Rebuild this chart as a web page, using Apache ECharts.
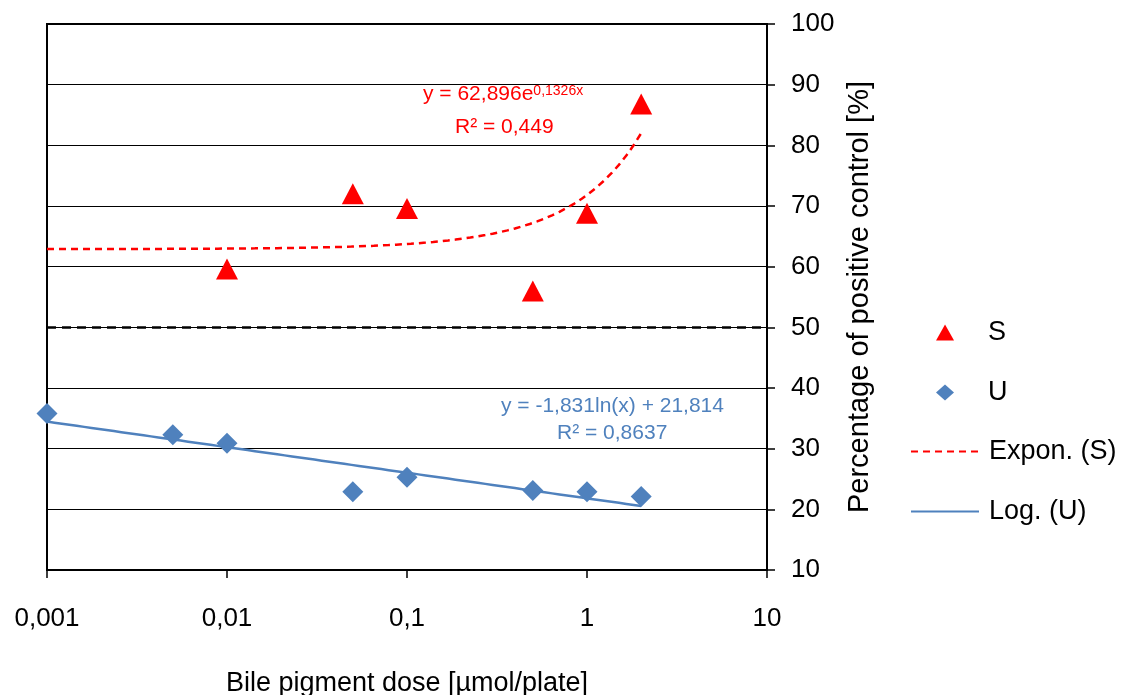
<!DOCTYPE html>
<html>
<head>
<meta charset="utf-8">
<script src="https://cdn.jsdelivr.net/npm/echarts@6/dist/echarts.min.js"></script>
<style>html,body{margin:0;padding:0;background:#fff;}#c{width:1125px;height:695px;}</style>
</head>
<body>
<div id="c"></div>
<script>
// ---- data ----
const doseS = [0.01, 0.05, 0.1, 0.5, 1, 2];
const valS  = [59.6, 72.0, 69.6, 56.0, 68.8, 86.8];
const doseU = [0.001, 0.005, 0.01, 0.05, 0.1, 0.5, 1, 2];
const valU  = [35.8, 32.3, 30.9, 22.9, 25.3, 23.1, 22.9, 22.1];
// trendline coefficients as printed on the chart
const expA = 62.896, expB = 0.1326;          // y = a e^(b x)
const logA = -1.831, logB = 21.814;          // y = a ln(x) + b
const trendFrom = 0.001, trendTo = 2;
const yMin = 10, yMax = 100, yStep = 10;
const threshold = 50;

function trend(fn) {
  const out = [];
  const n = 80;
  const l0 = Math.log10(trendFrom), l1 = Math.log10(trendTo);
  for (let i = 0; i <= n; i++) {
    const x = Math.pow(10, l0 + (l1 - l0) * i / n);
    out.push([x, fn(x)]);
  }
  return out;
}
const expLine = trend(x => expA * Math.exp(expB * x));
const logLine = trend(x => logA * Math.log(x) + logB);

const FONT = 'Liberation Sans, Arial, sans-serif';
const RED = '#FF0000', BLUE = '#4F81BD';
const chart = echarts.init(document.getElementById('c'));
chart.setOption({
  animation: false,
  backgroundColor: '#fff',
  textStyle: { fontFamily: FONT },
  grid: { left: 47, right: 358, top: 24, bottom: 125, show: true, borderColor: '#000', borderWidth: 2,
          containLabel: false, outerBoundsMode: 'none' },
  xAxis: {
    type: 'log', logBase: 10, min: 0.001, max: 10,
    name: 'Bile pigment dose [µmol/plate]', nameLocation: 'middle', nameGap: 100,
    nameTextStyle: { color: '#000', fontSize: 27, fontFamily: FONT },
    axisLine: { lineStyle: { color: '#000', width: 2 } },
    axisTick: { show: true, length: 8, lineStyle: { color: '#000', width: 1.5 } },
    minorTick: { show: false },
    splitLine: { show: false },
    axisLabel: { color: '#000', fontSize: 26, margin: 36, fontFamily: FONT,
      formatter: v => String(+v.toPrecision(6)).replace('.', ',') }
  },
  yAxis: {
    type: 'value', position: 'right', min: yMin, max: yMax, interval: yStep,
    name: 'Percentage of positive control [%]', nameLocation: 'middle', nameGap: 77, nameRotate: 90,
    nameTextStyle: { color: '#000', fontSize: 29, fontFamily: FONT },
    axisLine: { show: true, lineStyle: { color: '#000', width: 2 } },
    axisTick: { show: true, length: 8, lineStyle: { color: '#000', width: 1.5 } },
    splitLine: { show: true, lineStyle: { color: '#000', width: 1 } },
    axisLabel: { color: '#000', fontSize: 26, margin: 24, fontFamily: FONT }
  },
  legend: [
    {
      orient: 'vertical', left: 931, top: 314, itemWidth: 18, itemHeight: 16, itemGap: 33,
      textStyle: { color: '#000', fontSize: 27, fontFamily: FONT, lineHeight: 27, padding: [0, 0, 0, 29] },
      data: [ { name: 'S', icon: 'triangle' }, { name: 'U', icon: 'diamond' } ]
    },
    {
      orient: 'vertical', left: 905, top: 433, itemWidth: 68, itemHeight: 16, itemGap: 33,
      textStyle: { color: '#000', fontSize: 27, fontFamily: FONT, lineHeight: 27, padding: [0, 0, 0, 5] },
      data: [
        { name: 'Expon. (S)', itemStyle: { opacity: 0 } },
        { name: 'Log. (U)', itemStyle: { opacity: 0 } }
      ]
    }
  ],
  series: [
    {
      name: 'Expon. (S)', type: 'line', data: expLine, symbol: 'none',
      lineStyle: { color: RED, width: 2.5, type: [7, 5] }, itemStyle: { color: RED },
      z: 2
    },
    {
      name: 'Log. (U)', type: 'line', data: logLine, symbol: 'none',
      lineStyle: { color: BLUE, width: 2.5 }, itemStyle: { color: BLUE },
      z: 2,
      markLine: {
        silent: true, symbol: 'none', label: { show: false },
        lineStyle: { color: '#000', width: 2.5, type: [9, 6] },
        data: [{ yAxis: threshold }]
      }
    },
    {
      name: 'S', type: 'scatter', symbol: 'triangle', symbolSize: [22, 21],
      data: doseS.map((d, i) => [d, valS[i]]), itemStyle: { color: RED, opacity: 1 }, z: 3
    },
    {
      name: 'U', type: 'scatter', symbol: 'diamond', symbolSize: 21,
      data: doseU.map((d, i) => [d, valU[i]]), itemStyle: { color: BLUE, opacity: 1 }, z: 3
    }
  ],
  graphic: [
    { type: 'text', left: 423, top: 84, style: {
      rich: { a: { fontSize: 21, fill: RED, fontFamily: FONT, verticalAlign: 'bottom' },
              s: { fontSize: 14, fill: RED, fontFamily: FONT, verticalAlign: 'top' } },
      text: '{a|y = 62,896e}{s|0,1326x}' } },
    { type: 'text', left: 455, top: 117, style: { text: 'R² = 0,449', fontSize: 21, fill: RED, fontFamily: FONT } },
    { type: 'text', left: 501, top: 396, style: { text: 'y = -1,831ln(x) + 21,814', fontSize: 21, fill: BLUE, fontFamily: FONT } },
    { type: 'text', left: 557, top: 423, style: { text: 'R² = 0,8637', fontSize: 21, fill: BLUE, fontFamily: FONT } }
  ]
});
</script>
</body>
</html>
